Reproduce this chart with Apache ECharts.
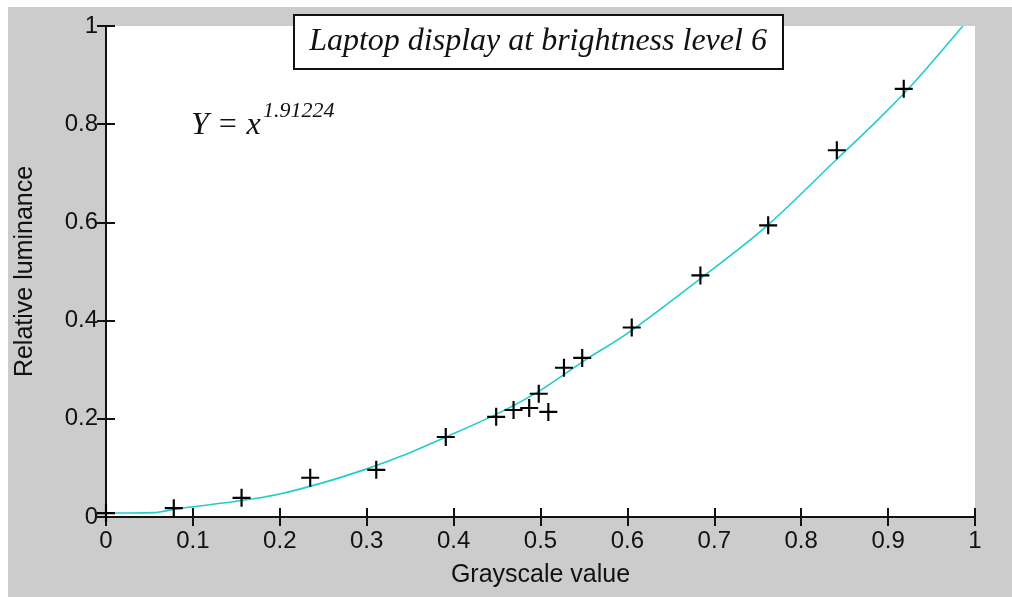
<!DOCTYPE html>
<html>
<head>
<meta charset="utf-8">
<script src="https://cdn.jsdelivr.net/npm/echarts@6/dist/echarts.min.js"></script>
<style>
html,body{margin:0;padding:0;background:#ffffff;width:1012px;height:597px;overflow:hidden;}
#chart{position:absolute;left:8px;top:7px;width:1004px;height:590px;background:#cccccc;}
</style>
</head>
<body>
<div id="chart"></div>
<script>
// Measured data points (grayscale value, relative luminance)
var pointX = [0, 0.078, 0.156, 0.235, 0.311, 0.391, 0.449, 0.469, 0.487, 0.498, 0.509, 0.527, 0.548, 0.605, 0.684, 0.762, 0.841, 0.918];
var pointY = [0.008, 0.018, 0.039, 0.080, 0.096, 0.163, 0.204, 0.218, 0.222, 0.251, 0.214, 0.304, 0.324, 0.386, 0.492, 0.594, 0.747, 0.872];
// Fitted curve
var curveX = [0, 0.055, 0.08, 0.1, 0.15, 0.2, 0.25, 0.3, 0.34, 0.39, 0.45, 0.5, 0.55, 0.6, 0.68, 0.76, 0.84, 0.89, 0.93, 0.986];
var curveY = [0.008, 0.009, 0.016, 0.021, 0.032, 0.047, 0.07, 0.098, 0.124, 0.162, 0.21, 0.258, 0.318, 0.374, 0.48, 0.592, 0.727, 0.812, 0.885, 1.0];
var xTicks = [0, 0.1, 0.2, 0.3, 0.4, 0.5, 0.6, 0.7, 0.8, 0.9, 1];
var yTicks = [0, 0.2, 0.4, 0.6, 0.8, 1];
var titleText = 'Laptop display at brightness level 6';
var eqBase = 'Y = x';
var eqExp = '1.91224';
var xName = 'Grayscale value';
var yName = 'Relative luminance';

var pts = pointX.map(function(x, i){ return [x, pointY[i]]; });
var crv = curveX.map(function(x, i){ return [x, curveY[i]]; });

var chart = echarts.init(document.getElementById('chart'), null, {renderer:'canvas'});
var labelFont = {fontFamily:'Liberation Sans, Arial, sans-serif', fontSize:24, color:'#111'};
function fmt(v){ return String(+v.toFixed(1)); }
var axisLine = {show:true, lineStyle:{color:'#111', width:2}};
var tick = {show:true, inside:true, length:9, lineStyle:{color:'#111', width:2}};

chart.setOption({
  backgroundColor:'#cccccc',
  animation:false,
  grid:{left:98, top:19, right:37, bottom:80, show:true, backgroundColor:'#ffffff', borderWidth:0,
        containLabel:false, outerBoundsMode:'none'},
  xAxis:[{
    type:'value', min:0, max:1, interval:0.1, position:'bottom',
    axisLine:axisLine, axisTick:tick, splitLine:{show:false},
    axisLabel:Object.assign({margin:12, formatter:fmt, showMinLabel:true, showMaxLabel:true}, labelFont),
    name:xName, nameLocation:'middle', nameGap:46,
    nameTextStyle:{fontFamily:'Liberation Sans, Arial, sans-serif', fontSize:25, color:'#111'}
  },{
    type:'value', min:0, max:1, interval:0.1, position:'top',
    axisLine:axisLine, axisTick:tick, splitLine:{show:false}, axisLabel:{show:false}
  }],
  yAxis:[{
    type:'value', min:0, max:1, interval:0.2, position:'left',
    axisLine:axisLine, axisTick:tick, splitLine:{show:false},
    axisLabel:Object.assign({margin:8, formatter:fmt, showMinLabel:true, showMaxLabel:true}, labelFont),
    name:yName, nameLocation:'middle', nameGap:68, nameRotate:90,
    nameTextStyle:{fontFamily:'Liberation Sans, Arial, sans-serif', fontSize:25, color:'#111'}
  },{
    type:'value', min:0, max:1, interval:0.2, position:'right',
    axisLine:axisLine, axisTick:tick, splitLine:{show:false}, axisLabel:{show:false}
  }],
  series:[{
    type:'line', data:crv, smooth:0.3, showSymbol:false, symbol:'none',
    lineStyle:{color:'#22cccc', width:1.6}, z:2, silent:true
  },{
    type:'scatter', data:pts, clip:false,
    symbol:'path://M0,4.4H10V5.6H0Z M4.4,0H5.6V10H4.4Z', symbolSize:18,
    itemStyle:{color:'#000', opacity:1}, z:3, silent:true
  }],
  graphic:[
    {type:'rect', left:285, top:7, shape:{width:489, height:54}, style:{fill:'#ffffff', stroke:'#111', lineWidth:2}, z:10},
    {type:'text', x:530, y:35, z:11, style:{text:titleText, font:'italic 32px "Liberation Serif", "Times New Roman", serif', fill:'#111', align:'center', verticalAlign:'middle'}},
    {type:'text', x:183, y:135, z:11, style:{text:eqBase, font:'italic 32px "Liberation Serif", "Times New Roman", serif', fill:'#111', align:'left', verticalAlign:'bottom'}},
    {type:'text', x:255, y:115, z:11, style:{text:eqExp, font:'italic 22px "Liberation Serif", "Times New Roman", serif', fill:'#111', align:'left', verticalAlign:'bottom'}}
  ]
});
</script>
</body>
</html>
